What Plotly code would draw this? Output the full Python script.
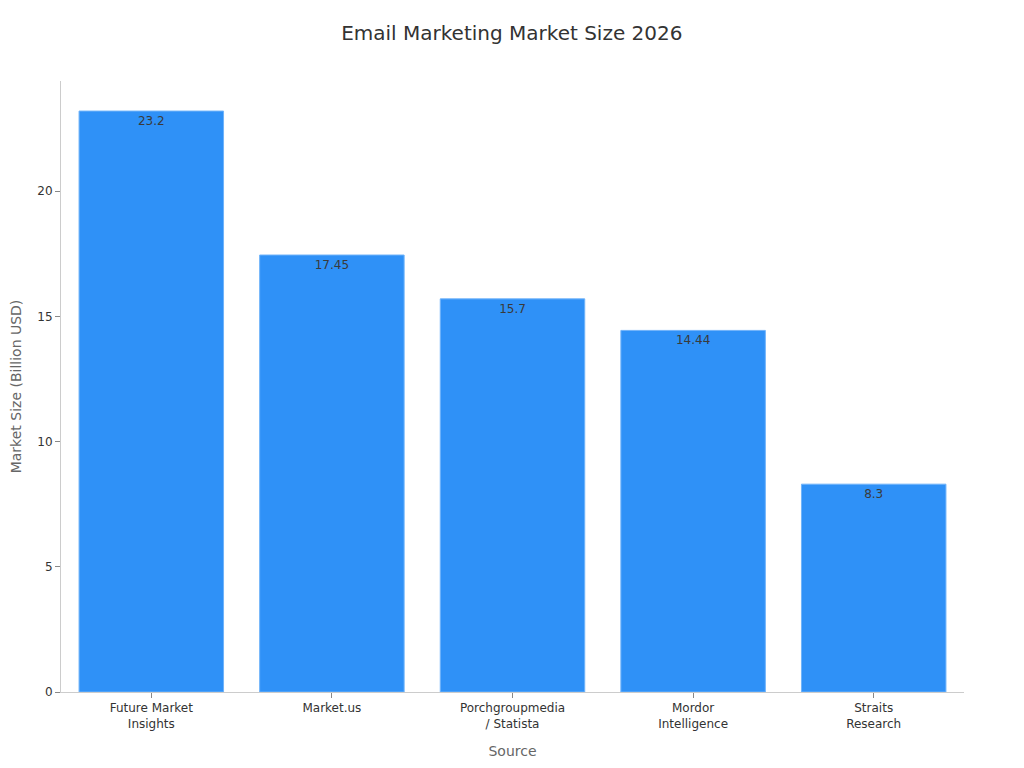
import plotly.graph_objects as go

sources = ["Future Market<br>Insights", "Market.us", "Porchgroupmedia<br>/ Statista",
           "Mordor<br>Intelligence", "Straits<br>Research"]
market_size = [23.2, 17.45, 15.7, 14.44, 8.3]
labels = ["23.2", "17.45", "15.7", "14.44", "8.3"]

fig = go.Figure(go.Bar(
    x=sources, y=market_size, text=labels, textposition="inside",
    insidetextanchor="end",
    textfont=dict(family="DejaVu Sans", size=12, color="#3a3a3a"),
    marker=dict(color="#2f91f7", line=dict(color="#6fb3fa", width=1)),
))

fig.update_layout(
    width=1024, height=768,
    font=dict(family="DejaVu Sans", size=12, color="#333333"),
    title=dict(text="Email Marketing Market Size 2026", x=0.492, xanchor="center",
               y=0.977, yanchor="top", font=dict(size=20, color="#333333")),
    paper_bgcolor="white", plot_bgcolor="white",
    margin=dict(l=53, r=68, t=73, b=84),
    bargap=0.2,
    showlegend=False,
    xaxis=dict(title=dict(text="Source", font=dict(size=14, color="#666666"), standoff=16),
               showline=True, linecolor="#cccccc", linewidth=1,
               ticks="outside", tickcolor="#888888", ticklen=5,
               automargin=False,
               tickfont=dict(size=12, color="#333333")),
    yaxis=dict(title=dict(text="Market Size (Billion USD)", font=dict(size=14, color="#666666"), standoff=23),
               range=[0, 24.4], showline=True, linecolor="#cccccc", linewidth=1,
               ticks="outside", tickcolor="#888888", ticklen=5, dtick=5,
               showgrid=False, zeroline=False, automargin=False,
               tickfont=dict(size=12, color="#333333")),
)

fig.write_html("out.html")
